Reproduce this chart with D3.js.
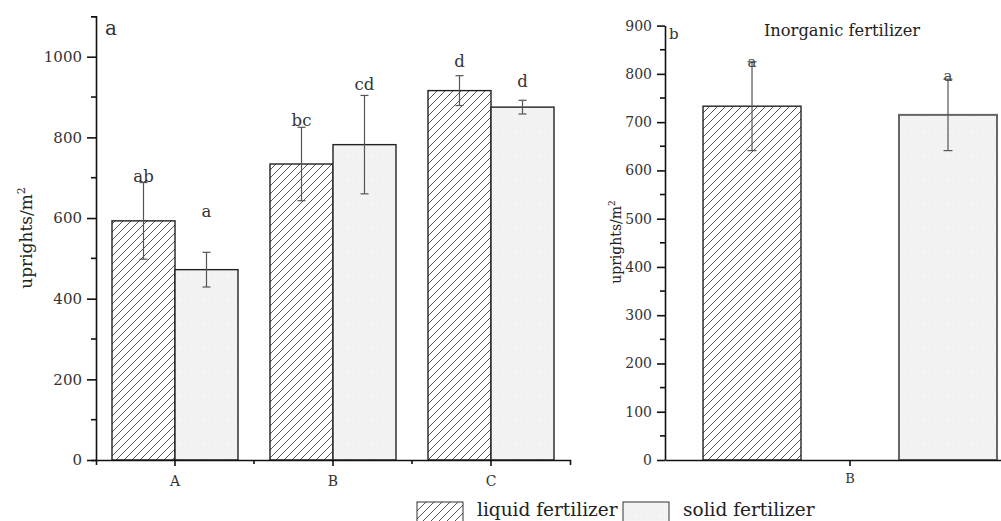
<!DOCTYPE html>
<html><head><meta charset="utf-8">
<script src="https://cdn.jsdelivr.net/npm/d3@7"></script>
<style>body{margin:0;background:#fff}svg{display:block}text{font-family:"DejaVu Serif",serif}</style>
</head><body><svg id="c" width="1001" height="521"></svg>
<script>
// ---- data ----
const categories = ["A","B","C"];
const seriesNames = ["liquid fertilizer","solid fertilizer"];
const liquidValues = [593, 734, 916];
const liquidErrors = [95, 91, 37];
const solidValues = [472, 782, 875];
const solidErrors = [43, 122, 17];
const liquidLetters = ["ab","bc","d"];
const solidLetters = ["a","cd","d"];
const liquidLetterAt = [689, 829, 975];
const solidLetterAt = [603, 918, 925];
const leftTicks = [0,200,400,600,800,1000];
const leftMinor = [100,300,500,700,900];

const rightCategory = ["B"];
const rightLiquid = [733], rightLiquidErr = [92];
const rightSolid = [715], rightSolidErr = [74];
const rightLetters = ["a","a"], rightLetterAt = [815, 785];
const rightTicks = [0,100,200,300,400,500,600,700,800,900];
const rightMinor = [50,150,250,350,450,550,650,750,850];

const svg = d3.select("#c");
const defs = svg.append("defs");
const pat = defs.append("pattern").attr("id","hatch").attr("patternUnits","userSpaceOnUse")
  .attr("width",8).attr("height",8);
pat.append("rect").attr("width",8).attr("height",8).attr("fill","#fff");
pat.append("path").attr("d","M-2,2 L2,-2 M0,8 L8,0 M6,10 L10,6").attr("stroke","#444").attr("stroke-width",0.9);
const pat2 = defs.append("pattern").attr("id","dots").attr("patternUnits","userSpaceOnUse")
  .attr("width",6).attr("height",6);
pat2.append("rect").attr("width",6).attr("height",6).attr("fill","#f3f3f3");
pat2.append("rect").attr("x",2).attr("y",2).attr("width",1).attr("height",1).attr("fill","#e8e8e8");

function errBar(g, cx, v, e, y, cap){
  g.append("line").attr("x1",cx).attr("x2",cx).attr("y1",y(v+e)).attr("y2",y(v-e))
    .attr("stroke","#555").attr("stroke-width",1.2);
  [v+e, v-e].forEach(t=>g.append("line").attr("x1",cx-cap/2).attr("x2",cx+cap/2)
    .attr("y1",y(t)).attr("y2",y(t)).attr("stroke","#555").attr("stroke-width",1.2));
}

// ---- left panel ----
{
  const g = svg.append("g");
  const x0 = d3.scaleBand().domain(categories).range([96,570]).padding(0);
  const x1 = d3.scaleBand().domain(seriesNames).range([0,x0.bandwidth()]).paddingInner(0).paddingOuter(0.254);
  const y = d3.scaleLinear().domain([0,1100]).range([460,16.4]);

  categories.forEach((c,i)=>{
    const lx = x0(c)+x1(seriesNames[0]), sx = x0(c)+x1(seriesNames[1]), w = x1.bandwidth();
    g.append("rect").attr("x",lx).attr("y",y(liquidValues[i])).attr("width",w)
      .attr("height",y(0)-y(liquidValues[i])).attr("fill","url(#hatch)").attr("stroke","#222").attr("stroke-width",1.4);
    g.append("rect").attr("x",sx).attr("y",y(solidValues[i])).attr("width",w)
      .attr("height",y(0)-y(solidValues[i])).attr("fill","url(#dots)").attr("stroke","#222").attr("stroke-width",1.4);
    errBar(g, lx+w/2, liquidValues[i], liquidErrors[i], y, 8);
    errBar(g, sx+w/2, solidValues[i], solidErrors[i], y, 8);
    g.append("text").attr("x",lx+w/2).attr("y",y(liquidLetterAt[i])).attr("text-anchor","middle")
      .attr("font-size",16.5).attr("fill","#333").text(liquidLetters[i]);
    g.append("text").attr("x",sx+w/2).attr("y",y(solidLetterAt[i])).attr("text-anchor","middle")
      .attr("font-size",16.5).attr("fill","#333").text(solidLetters[i]);
  });

  const ya = g.append("g").attr("transform","translate(96,0)")
    .call(d3.axisLeft(y).tickValues(leftTicks).tickFormat(d3.format("d")).tickSize(9).tickSizeOuter(5).tickPadding(5));
  ya.append("g").selectAll("line").data(leftMinor).join("line")
    .attr("x1",-5).attr("x2",0).attr("y1",d=>y(d)).attr("y2",d=>y(d)).attr("stroke","#111").attr("stroke-width",1.5);
  ya.selectAll("text").attr("font-size",15).attr("fill","#333");
  ya.selectAll("path,line").attr("stroke","#111").attr("stroke-width",1.6);

  const xa = g.append("g").attr("transform","translate(0,460)")
    .call(d3.axisBottom(x0).tickSize(6).tickSizeOuter(5).tickPadding(10));
  xa.append("g").selectAll("line").data(categories.slice(1)).join("line")
    .attr("x1",d=>x0(d)).attr("x2",d=>x0(d)).attr("y1",0).attr("y2",4).attr("stroke","#111").attr("stroke-width",1.5);
  xa.selectAll("text").attr("font-size",14).attr("fill","#333");
  xa.selectAll("path,line").attr("stroke","#111").attr("stroke-width",1.6);

  g.append("text").attr("transform","translate(32,238) rotate(-90)").attr("text-anchor","middle")
    .attr("font-size",17).attr("fill","#222")
    .html('uprights/m<tspan dy="-7" font-size="11">2</tspan>');
  g.append("text").attr("x",105).attr("y",35).attr("font-size",20).attr("fill","#333").text("a");
}

// ---- right panel ----
{
  const g = svg.append("g");
  const x0 = d3.scaleBand().domain(rightCategory).range([665,1035]).padding(0);
  const x1 = d3.scaleBand().domain(seriesNames).range([0,x0.bandwidth()]).paddingInner(0.5).paddingOuter(0.194);
  const y = d3.scaleLinear().domain([0,900]).range([460,25.6]);
  const w = x1.bandwidth();
  const lx = x0("B")+x1(seriesNames[0]), sx = x0("B")+x1(seriesNames[1]);
  g.append("rect").attr("x",lx).attr("y",y(rightLiquid[0])).attr("width",w)
    .attr("height",y(0)-y(rightLiquid[0])).attr("fill","url(#hatch)").attr("stroke","#222").attr("stroke-width",1.4);
  g.append("rect").attr("x",sx).attr("y",y(rightSolid[0])).attr("width",w)
    .attr("height",y(0)-y(rightSolid[0])).attr("fill","url(#dots)").attr("stroke","#666").attr("stroke-width",2);
  errBar(g, lx+w/2, rightLiquid[0], rightLiquidErr[0], y, 9);
  errBar(g, sx+w/2, rightSolid[0], rightSolidErr[0], y, 9);
  g.append("text").attr("x",lx+w/2).attr("y",y(rightLetterAt[0])).attr("text-anchor","middle").attr("font-size",15).attr("fill","#444").text(rightLetters[0]);
  g.append("text").attr("x",sx+w/2).attr("y",y(rightLetterAt[1])).attr("text-anchor","middle").attr("font-size",15).attr("fill","#444").text(rightLetters[1]);

  const ya = g.append("g").attr("transform","translate(665,0)")
    .call(d3.axisLeft(y).tickValues(rightTicks).tickFormat(d3.format("d")).tickSize(8).tickSizeOuter(0).tickPadding(5));
  ya.append("g").selectAll("line").data(rightMinor).join("line")
    .attr("x1",-5).attr("x2",0).attr("y1",d=>y(d)).attr("y2",d=>y(d)).attr("stroke","#111").attr("stroke-width",1.5);
  ya.selectAll("text").attr("font-size",14).attr("fill","#333");
  ya.selectAll("path,line").attr("stroke","#111").attr("stroke-width",1.6);

  const xa = g.append("g").attr("transform","translate(0,460)")
    .call(d3.axisBottom(x0).tickSize(6).tickSizeOuter(0).tickPadding(8));
  xa.selectAll("text").attr("font-size",13).attr("fill","#333");
  xa.selectAll("path,line").attr("stroke","#111").attr("stroke-width",1.6);

  g.append("text").attr("transform","translate(621,242) rotate(-90)").attr("text-anchor","middle")
    .attr("font-size",14).attr("fill","#222")
    .html('uprights/m<tspan dy="-6" font-size="9">2</tspan>');
  g.append("text").attr("x",669).attr("y",39).attr("font-size",15).attr("fill","#333").text("b");
  g.append("text").attr("x",842).attr("y",36).attr("text-anchor","middle").attr("font-size",16.3).attr("fill","#222").text("Inorganic fertilizer");
}

// ---- legend ----
{
  const lg = svg.append("g");
  const items = [{n:seriesNames[0],f:"url(#hatch)",x:417},{n:seriesNames[1],f:"url(#dots)",x:623}];
  items.forEach(it=>{
    lg.append("rect").attr("x",it.x).attr("y",502).attr("width",46).attr("height",22)
      .attr("fill",it.f).attr("stroke","#333").attr("stroke-width",1);
    lg.append("text").attr("x",it.x+60).attr("y",516).attr("font-size",18.5).attr("fill","#222").text(it.n);
  });
}
</script></body></html>
